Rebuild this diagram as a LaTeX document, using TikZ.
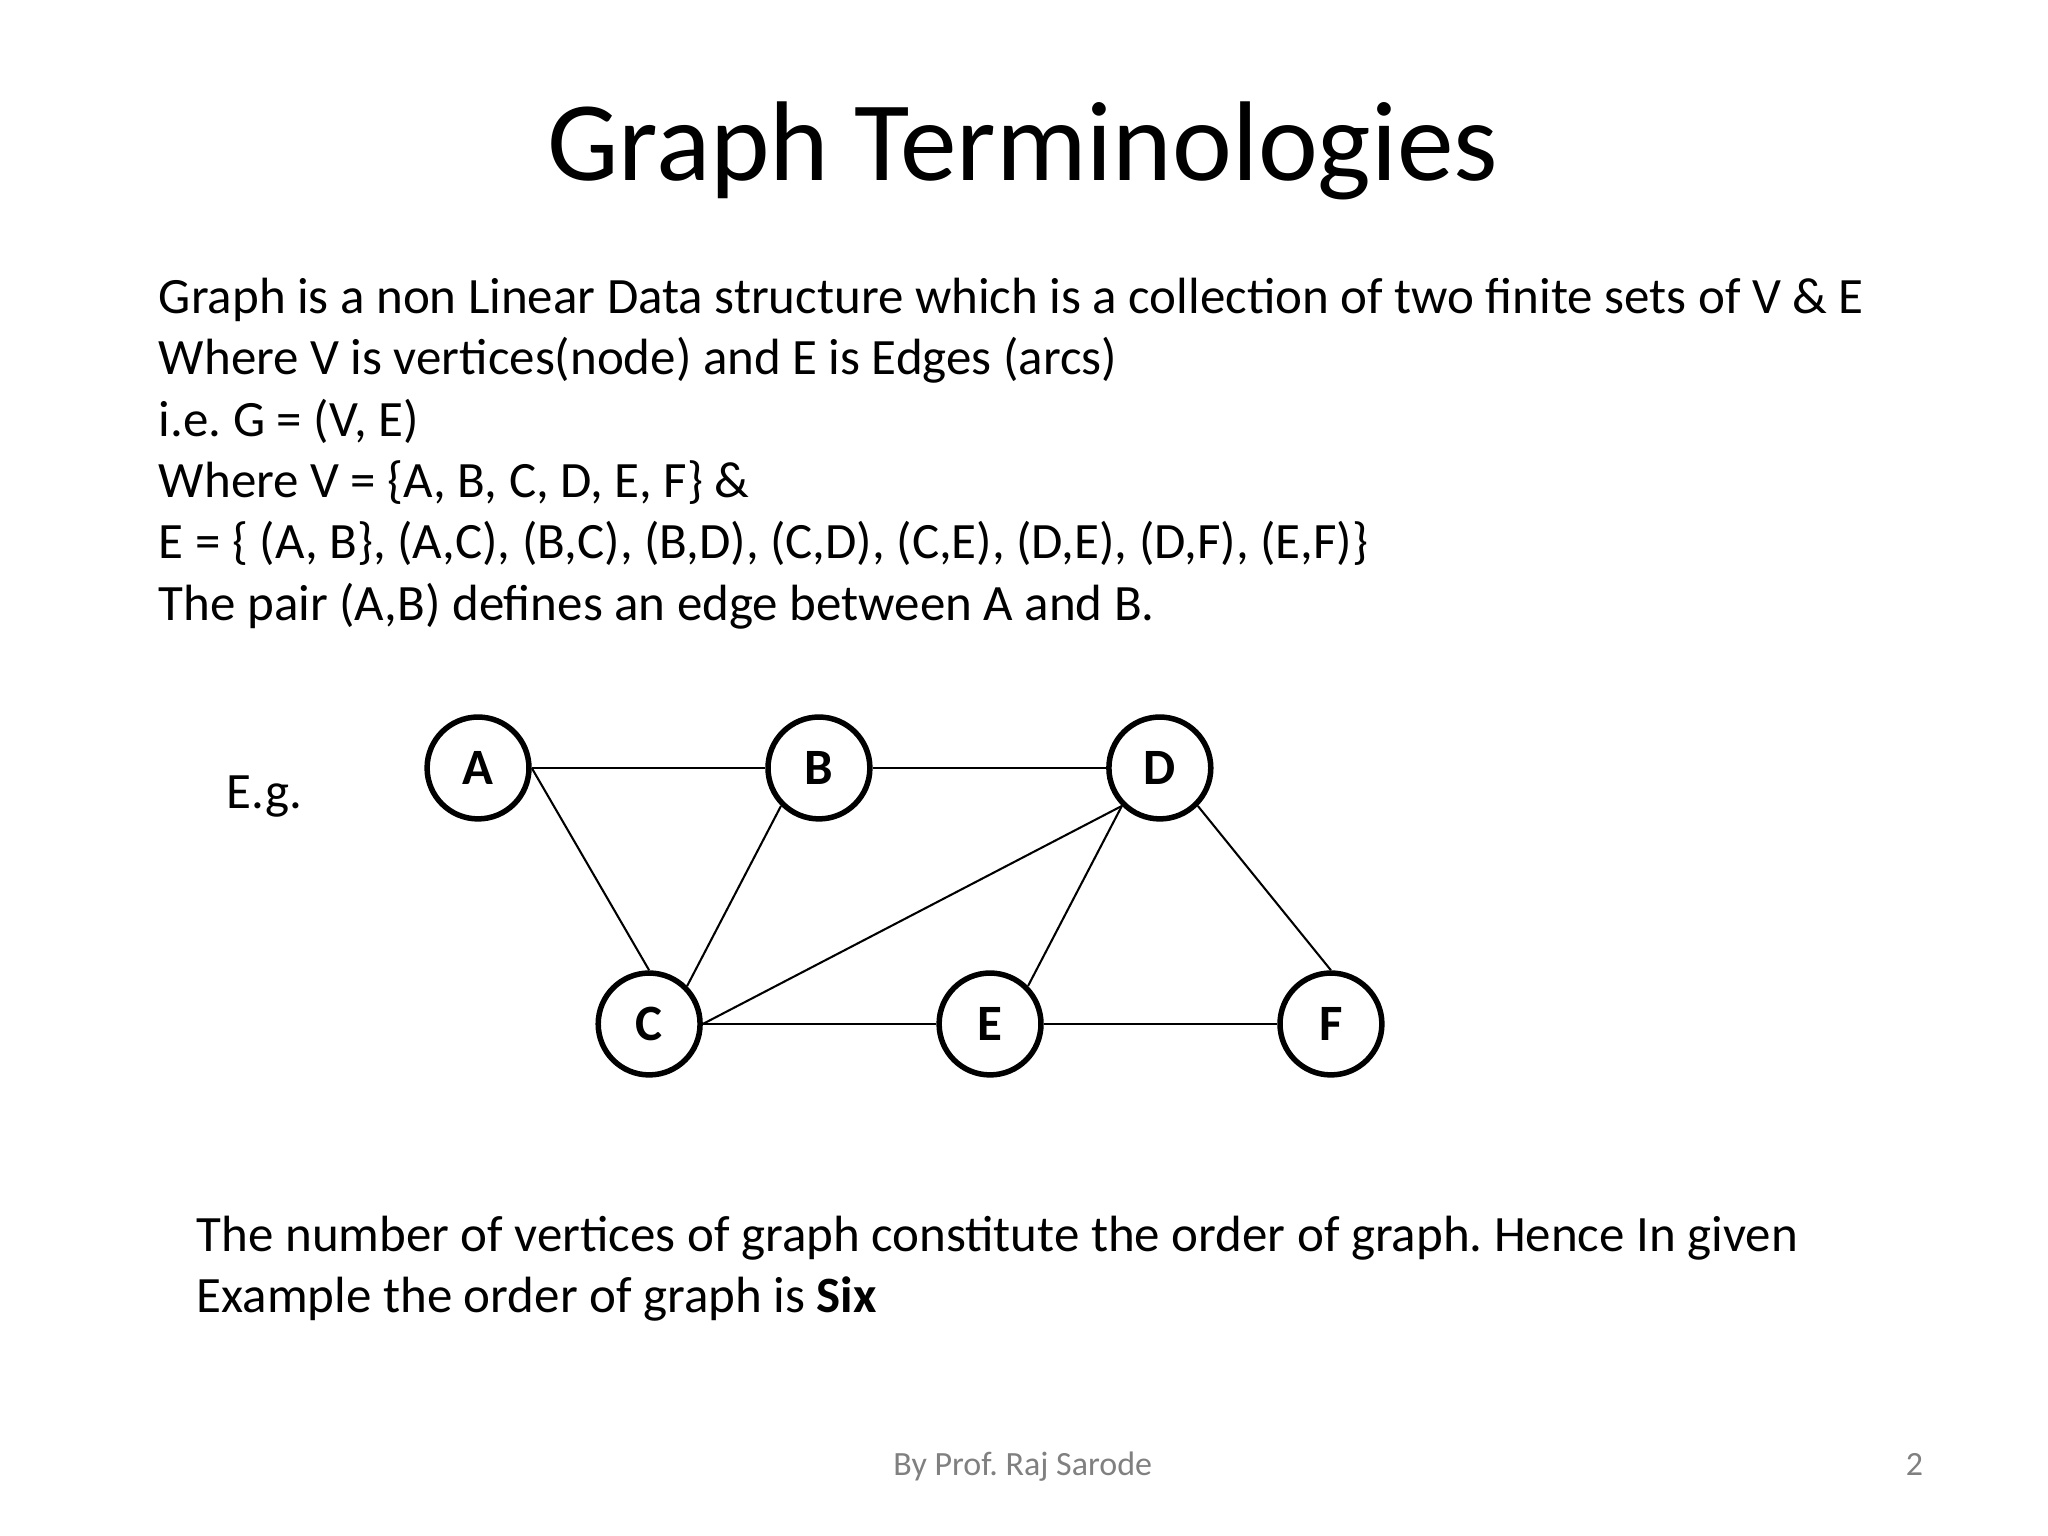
\documentclass[tikz,border=0pt]{standalone}
\usepackage{fontspec}
\setmainfont{Carlito}
\usepackage{tikz}
\frenchspacing

\tikzset{
  vertex/.style={circle,draw,line width=1.2pt,minimum size=0.78cm,inner sep=0pt,font=\fontsize{11.1}{13}\selectfont\bfseries},
  edge/.style={line width=0.45pt},
  line/.style={anchor=base west,inner sep=0pt,font=\fontsize{11.1}{13}\selectfont}
}

\begin{document}
\begin{tikzpicture}
  \useasboundingbox (0,0) rectangle (15.68,11.76);
  \node[anchor=base,inner sep=0pt,font=\fontsize{24.7}{30}\selectfont] (title) at (7.83,10.38) {Graph Terminologies};
  \node[line] (l1) at (1.21,9.36) {Graph is a non Linear Data structure which is a collection of two finite sets of V \& E};
  \node[line] (l2) at (1.21,8.89) {Where V is vertices(node) and E is Edges (arcs)};
  \node[line] (l3) at (1.21,8.42) {i.e. G = (V, E)};
  \node[line] (l4) at (1.21,7.95) {Where V = \{A, B, C, D, E, F\} \&};
  \node[line] (l5) at (1.21,7.48) {E = \{ (A, B\}, (A,C), (B,C), (B,D), (C,D), (C,E), (D,E), (D,F), (E,F)\}};
  \node[line] (l6) at (1.21,7.01) {The pair (A,B) defines an edge between A and B.};
  \node[line] (eg) at (1.73,5.57) {E.g.};
  % the graph
  \node[vertex] (A) at (3.66,5.88) {A};
  \node[vertex] (B) at (6.27,5.88) {B};
  \node[vertex] (D) at (8.88,5.88) {D};
  \node[vertex] (C) at (4.97,3.92) {C};
  \node[vertex] (E) at (7.58,3.92) {E};
  \node[vertex] (F) at (10.19,3.92) {F};
  \foreach \a/\b in {A.east/B.west,A.east/C.north,B.south west/C.north east,B.east/D.west,
                     D.south west/C.east,C.east/E.west,D.south west/E.north east,D.south east/F.north,E.east/F.west}
    \draw[edge] (\a) -- (\b);
  \node[line] (m1) at (1.50,2.18) {The number of vertices of graph constitute the order of graph. Hence In given};
  \node[line] (m2) at (1.50,1.71) {Example the order of graph is \textbf{Six}};
  % footer
  \node[anchor=base,inner sep=0pt,text=gray,font=\fontsize{7.4}{9}\selectfont] (by) at (7.83,0.46) {By Prof. Raj Sarode};
  \node[anchor=base east,inner sep=0pt,text=gray,font=\fontsize{7.4}{9}\selectfont] (pg) at (14.73,0.46) {2};
\end{tikzpicture}
\end{document}
